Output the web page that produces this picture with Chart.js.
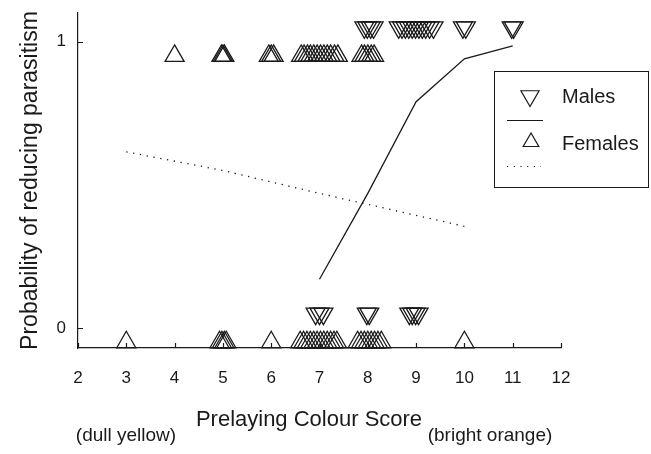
<!DOCTYPE html>
<html>
<head>
<meta charset="utf-8">
<title>Probability of reducing parasitism</title>
<script src="https://cdn.jsdelivr.net/npm/chart.js@4.4.1/dist/chart.umd.min.js"></script>
<style>
  html, body { margin: 0; padding: 0; background: #fff; }
  #wrap { width: 651px; height: 454px; }
</style>
</head>
<body>
<div id="wrap"><canvas id="chart" width="651" height="454"></canvas></div>
<script>
// Colour score of each bird (jittered a little in the original figure)
const maleYesX = [7.93, 7.99, 8.06, 8.12,
  8.64, 8.71, 8.78, 8.85, 8.92, 8.99, 9.06, 9.13, 9.2, 9.28, 9.36,
  9.97, 10.03, 10.98, 11.02];
const maleNoX = [6.92, 7.0, 7.08, 7.98, 8.03, 8.86, 8.92, 8.99, 9.05];
const femaleYesX = [4.0, 4.97, 5.0, 5.03, 5.95, 6.0, 6.05,
  6.62, 6.68, 6.75, 6.81, 6.88, 6.95, 7.02, 7.09, 7.16, 7.23, 7.31, 7.38,
  7.87, 7.93, 8.0, 8.07, 8.13];
const femaleNoX = [3.0, 4.93, 4.98, 5.03, 5.07, 6.0,
  6.6, 6.67, 6.74, 6.81, 6.88, 6.95, 7.02, 7.09, 7.16, 7.23, 7.3, 7.36,
  7.79, 7.86, 7.93, 8.0, 8.07, 8.14, 8.21, 8.28, 10.0];

// Rows the outcomes are plotted on (1 / 0, offset by sex)
const maleYesY = 1.05, maleNoY = 0.05;
const femaleYesY = 0.95, femaleNoY = -0.05;

// Fitted probabilities
const maleFitX = [7, 8, 9, 10, 11];
const maleFitP = [0.17, 0.47, 0.79, 0.94, 0.985];
const femaleFitX = [3, 5, 7, 10];
const femaleFitP = [0.615, 0.55, 0.47, 0.355];

const xTicks = [2, 3, 4, 5, 6, 7, 8, 9, 10, 11, 12];
const yTicks = [0, 1];

const INK = '#1a1a1a';
const FONT = '"Liberation Sans", Arial, Helvetica, sans-serif';

function toPoints(xs, y) {
  return xs.map(x => ({ x: x, y: y }));
}
function toLine(xs, ys) {
  return xs.map((x, i) => ({ x: x, y: ys[i] }));
}

function markerSet(label, xs, y, rotation) {
  return {
    label: label,
    data: toPoints(xs, y),
    showLine: false,
    pointStyle: 'triangle',
    rotation: rotation,
    pointRadius: 11,
    pointHoverRadius: 11,
    pointBorderWidth: 1.3,
    pointBorderColor: INK,
    pointBackgroundColor: 'rgba(0,0,0,0)',
    clip: false
  };
}

// Inward ticks, lower captions and the boxed legend
const decorPlugin = {
  id: 'decor',
  afterDraw(chart) {
    const ctx = chart.ctx;
    const xs = chart.scales.x;
    const ys = chart.scales.y;
    const area = chart.chartArea;
    ctx.save();
    ctx.strokeStyle = INK;
    ctx.lineWidth = 1.2;
    ctx.beginPath();
    xTicks.forEach(v => {
      const px = Math.round(xs.getPixelForValue(v)) + 0.5;
      ctx.moveTo(px, area.bottom);
      ctx.lineTo(px, area.bottom - 5);
    });
    yTicks.forEach(v => {
      const py = Math.round(ys.getPixelForValue(v)) + 0.5;
      ctx.moveTo(area.left, py);
      ctx.lineTo(area.left + 5, py);
    });
    ctx.stroke();

    ctx.fillStyle = INK;
    ctx.textAlign = 'center';
    ctx.textBaseline = 'alphabetic';
    ctx.font = '22px ' + FONT;
    ctx.fillText('Prelaying Colour Score', 309, 426);
    ctx.font = '19px ' + FONT;
    ctx.fillText('(dull yellow)', 126, 441);
    ctx.fillText('(bright orange)', 490, 441);

    // legend box
    ctx.lineWidth = 1;
    ctx.strokeRect(494.5, 71.5, 154, 116);
    ctx.lineWidth = 1.2;
    // down triangle
    let r = 10.5, cx = 530, cy = 96;
    ctx.beginPath();
    ctx.moveTo(cx, cy + r);
    ctx.lineTo(cx - r * 0.866, cy - r / 2);
    ctx.lineTo(cx + r * 0.866, cy - r / 2);
    ctx.closePath();
    ctx.stroke();
    // solid line
    ctx.beginPath();
    ctx.moveTo(507, 120.5);
    ctx.lineTo(543, 120.5);
    ctx.stroke();
    // up triangle
    r = 9; cx = 531; cy = 142;
    ctx.beginPath();
    ctx.moveTo(cx, cy - r);
    ctx.lineTo(cx - r * 0.866, cy + r / 2);
    ctx.lineTo(cx + r * 0.866, cy + r / 2);
    ctx.closePath();
    ctx.stroke();
    // dotted line
    ctx.setLineDash([1.2, 5.5]);
    ctx.beginPath();
    ctx.moveTo(507, 166.5);
    ctx.lineTo(541, 166.5);
    ctx.stroke();
    ctx.setLineDash([]);

    ctx.textAlign = 'left';
    ctx.font = '20px ' + FONT;
    ctx.fillText('Males', 562, 103);
    ctx.fillText('Females', 562, 150);
    ctx.restore();
  }
};

const ctx = document.getElementById('chart').getContext('2d');
new Chart(ctx, {
  type: 'scatter',
  data: {
    datasets: [
      {
        label: 'Males fit',
        data: toLine(maleFitX, maleFitP),
        showLine: true,
        borderColor: INK,
        borderWidth: 1.3,
        pointRadius: 0,
        fill: false,
        clip: false
      },
      {
        label: 'Females fit',
        data: toLine(femaleFitX, femaleFitP),
        showLine: true,
        borderColor: INK,
        borderWidth: 1.3,
        borderDash: [1.3, 5.6],
        pointRadius: 0,
        fill: false,
        clip: false
      },
      markerSet('Males', maleYesX, maleYesY, 180),
      markerSet('Males', maleNoX, maleNoY, 180),
      markerSet('Females', femaleYesX, femaleYesY, 0),
      markerSet('Females', femaleNoX, femaleNoY, 0)
    ]
  },
  options: {
    responsive: false,
    animation: false,
    devicePixelRatio: 1,
    layout: { autoPadding: false, padding: { left: 0, top: 13, right: 90, bottom: 0 } },
    plugins: {
      legend: { display: false },
      tooltip: { enabled: false }
    },
    scales: {
      x: {
        type: 'linear',
        min: 2,
        max: 12,
        grid: { display: false, drawTicks: false },
        border: { display: true, color: INK, width: 1.2 },
        ticks: {
          stepSize: 1,
          padding: 20,
          color: INK,
          font: { family: FONT, size: 17 }
        },
        afterFit: scale => { scale.height = 106; }
      },
      y: {
        type: 'linear',
        min: -0.07,
        max: 1.1,
        grid: { display: false, drawTicks: false },
        border: { display: true, color: INK, width: 1.2 },
        afterBuildTicks: scale => { scale.ticks = yTicks.map(v => ({ value: v })); },
        ticks: {
          padding: 12,
          color: INK,
          font: { family: FONT, size: 17 }
        },
        title: {
          display: true,
          text: 'Probability of reducing parasitism',
          color: INK,
          font: { family: FONT, size: 23 },
          padding: { top: 17, bottom: 0 }
        },
        afterFit: scale => {
          scale.width = 78;
          scale.paddingTop = 0;
          scale.paddingBottom = 0;
        }
      }
    }
  },
  plugins: [decorPlugin]
});
</script>
</body>
</html>
